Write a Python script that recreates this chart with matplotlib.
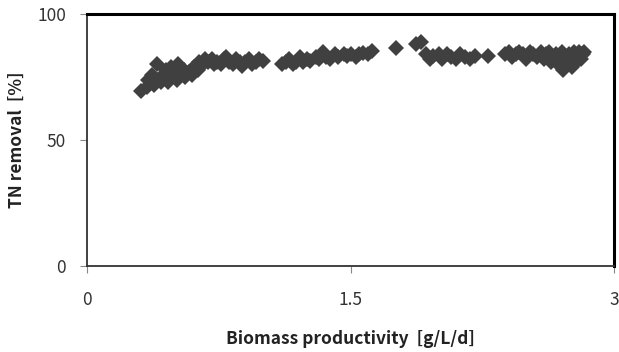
import matplotlib
matplotlib.use("Agg")
import matplotlib.pyplot as plt

plt.rcParams['font.family'] = ['Noto Sans CJK KR', 'DejaVu Sans']

productivity = [0.31, 0.34, 0.35, 0.37, 0.38, 0.40, 0.40, 0.42, 0.43, 0.45, 0.46, 0.47, 0.48, 0.50, 0.51,
                0.52, 0.53, 0.55, 0.56, 0.58, 0.60, 0.61, 0.63, 0.64, 0.66, 0.67, 0.69, 0.71, 0.72, 0.74,
                0.76, 0.78, 0.79, 0.81, 0.83, 0.85, 0.87, 0.88, 0.90, 0.92, 0.94, 0.96, 0.98, 1.00,
                1.11, 1.13, 1.15, 1.17, 1.19, 1.21, 1.23, 1.25, 1.27, 1.30, 1.32, 1.34, 1.36, 1.38,
                1.41, 1.43, 1.46, 1.48, 1.50, 1.53, 1.55, 1.57, 1.60, 1.62,
                1.76, 1.87, 1.90, 1.93, 1.95, 1.97, 2.00, 2.02, 2.05, 2.07, 2.10, 2.12, 2.15, 2.18, 2.21, 2.28,
                2.38, 2.40, 2.42, 2.44, 2.46, 2.48, 2.50, 2.52, 2.54, 2.56, 2.58, 2.60, 2.61, 2.63, 2.64,
                2.66, 2.67, 2.68, 2.69, 2.70, 2.71, 2.72, 2.73, 2.74, 2.75, 2.76, 2.77, 2.78, 2.79, 2.80,
                2.81, 2.81, 2.82, 2.83]
tn_removal = [69.5, 71, 74, 76, 72, 74, 80, 73, 76, 78, 73, 75, 79, 77, 74,
              80, 76, 78, 75, 77, 76, 79, 78, 81, 80, 82, 81, 82, 80, 81,
              80, 82, 83, 81, 80, 82, 81, 79.5, 81, 82, 80, 81, 82, 81.5,
              80, 81, 82, 80, 81, 83, 81, 82, 81.5, 83, 82, 85, 83, 82,
              84, 83, 84, 83.5, 84, 83, 84, 84.5, 84, 85.5,
              86.5, 88, 89, 84, 82, 83.5, 84, 82, 84, 83, 82, 84, 83, 82, 83.5, 83.5,
              84, 85, 83, 84, 85, 84, 82, 85, 84, 83, 85, 82, 84, 85, 81,
              83, 84, 80, 82, 85, 78, 83, 80, 84, 82, 79, 85, 81, 83, 85,
              84, 82, 84, 85]

x_ticks = [0, 1.5, 3]
x_tick_labels = ['0', '1.5', '3']
y_ticks = [0, 50, 100]
y_tick_labels = ['0', '50', '100']

fig = plt.figure(figsize=(6.19, 3.52), dpi=100)
ax = fig.add_axes([0.1405, 0.2443, 0.852, 0.7157])

ax.plot(productivity, tn_removal, linestyle='none', marker='D', markersize=8.5,
        color='#404040', markeredgewidth=0)

ax.set_xlim(0, 3)
ax.set_ylim(0, 100)
ax.set_xticks(x_ticks)
ax.set_xticklabels(x_tick_labels)
ax.set_yticks(y_ticks)
ax.set_yticklabels(y_tick_labels)

for side in ['left', 'bottom']:
    ax.spines[side].set_linewidth(1.3)
    ax.spines[side].set_color('#333333')
for side in ['top', 'right']:
    ax.spines[side].set_linewidth(2.2)
    ax.spines[side].set_color('#000000')

ax.tick_params(axis='both', direction='out', length=5, width=0.8, color='#888888',
               labelsize=12.5, labelcolor='#333333')
ax.tick_params(axis='x', pad=13)
ax.tick_params(axis='y', pad=10)

ax.set_xlabel('Biomass productivity  [g/L/d]', fontsize=12.5, fontweight='bold', color='#222222')
ax.set_ylabel('TN removal  [%]', fontsize=12.5, fontweight='bold', color='#222222')
ax.xaxis.set_label_coords(0.5, -0.253)
ax.xaxis.label.set_va('top')
ax.yaxis.set_label_coords(-0.115, 0.5)

fig.savefig('out.png', dpi=100)
